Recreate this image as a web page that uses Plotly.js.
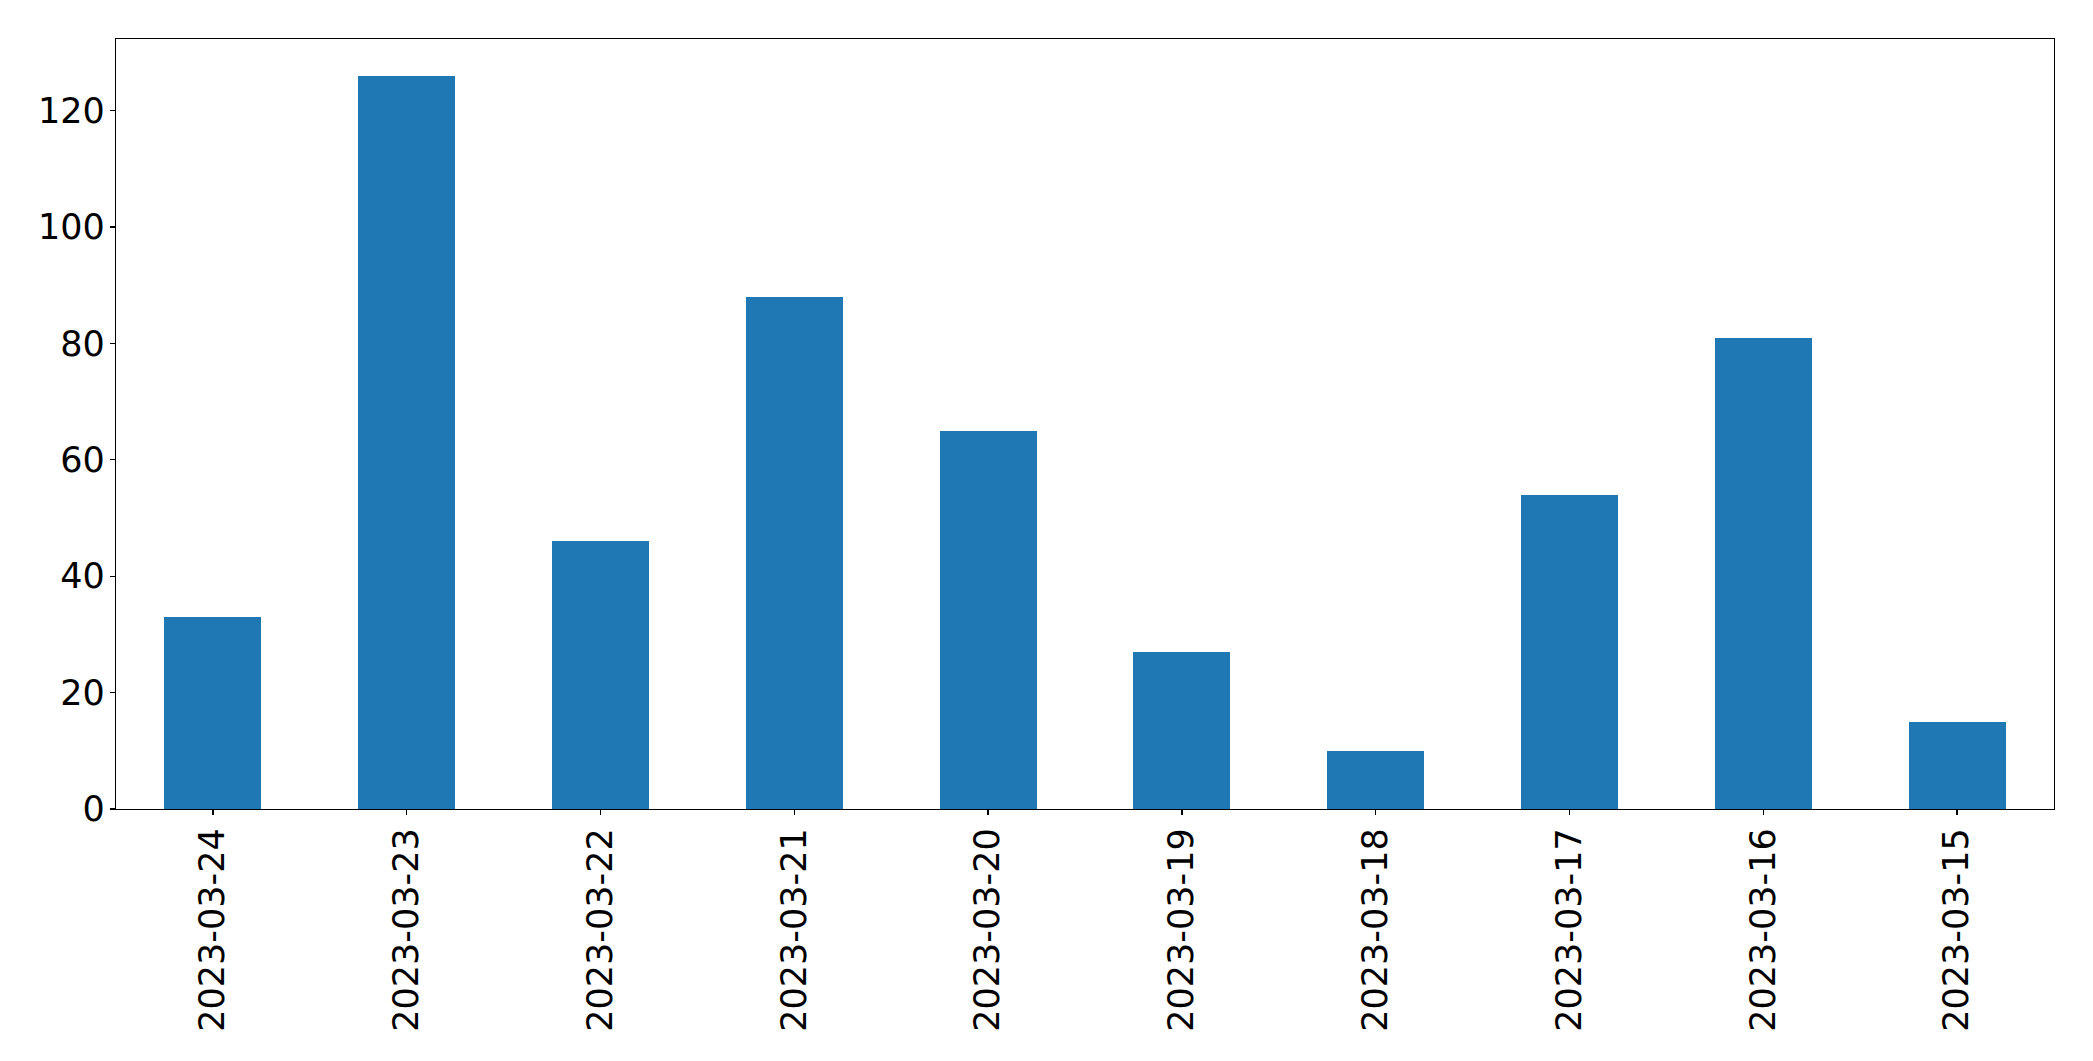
<!DOCTYPE html>
<html>
<head>
<meta charset="utf-8">
<script src="https://cdn.plot.ly/plotly-3.0.1.min.js"></script>
<style>html,body{margin:0;padding:0;background:#fff;}#chart{width:2093px;height:1061px;}</style>
</head>
<body>
<div id="chart"></div>
<script>
const dates = ["2023-03-24","2023-03-23","2023-03-22","2023-03-21","2023-03-20","2023-03-19","2023-03-18","2023-03-17","2023-03-16","2023-03-15"];
const counts = [33, 126, 46, 88, 65, 27, 10, 54, 81, 15];
const yTicks = [0, 20, 40, 60, 80, 100, 120];

const trace = {
  type: 'bar',
  x: dates,
  y: counts,
  width: 0.5,
  marker: {color: '#1f77b4', line: {width: 0}},
  hoverinfo: 'x+y'
};

const layout = {
  width: 2093,
  height: 1061,
  margin: {l: 116, r: 39, t: 39, b: 252, pad: 0},
  paper_bgcolor: '#ffffff',
  plot_bgcolor: '#ffffff',
  font: {family: 'DejaVu Sans', size: 35, color: '#000000'},
  showlegend: false,
  bargap: 0,
  xaxis: {
    type: 'category',
    range: [-0.5, dates.length - 0.5],
    tickangle: -90,
    ticks: 'outside',
    ticklen: 5,
    tickwidth: 1.2,
    tickcolor: '#000',
    showline: true,
    linecolor: '#000',
    linewidth: 1.3,
    mirror: true,
    showgrid: false,
    zeroline: false,
    ticklabelstandoff: -1,
    tickfont: {family: 'DejaVu Sans', size: 35, color: '#000'}
  },
  yaxis: {
    range: [0, Math.max(...counts) * 1.05],
    tickvals: yTicks,
    ticktext: yTicks.map(String),
    ticks: 'outside',
    ticklen: 5,
    tickwidth: 1.2,
    tickcolor: '#000',
    showline: true,
    linecolor: '#000',
    linewidth: 1.3,
    mirror: true,
    showgrid: false,
    zeroline: false,
    ticklabelstandoff: -2,
    tickfont: {family: 'DejaVu Sans', size: 35, color: '#000'}
  }
};

Plotly.newPlot('chart', [trace], layout, {displayModeBar: false, staticPlot: true});
</script>
</body>
</html>
